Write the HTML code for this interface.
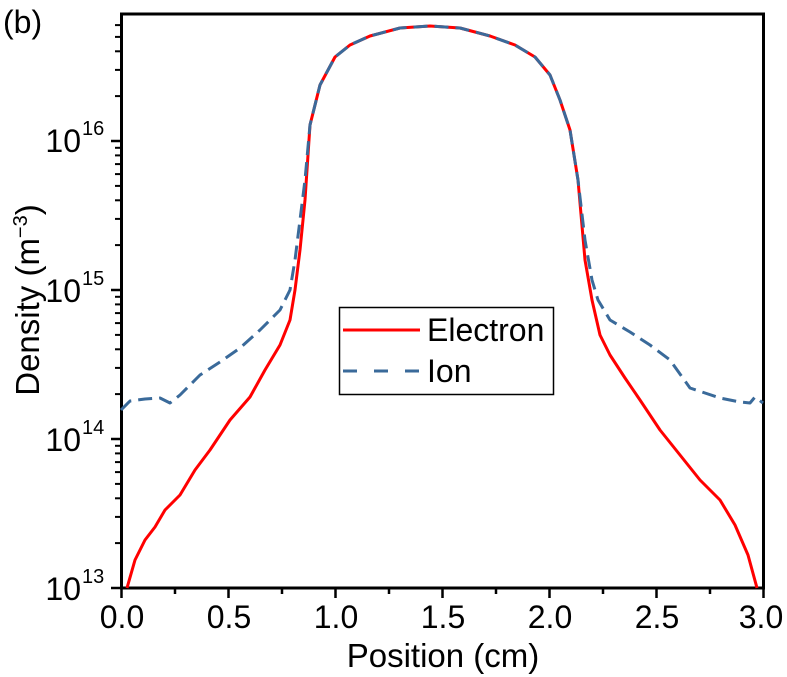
<!DOCTYPE html>
<html><head><style>body{margin:0;background:#fff}svg{display:block}text{font-family:"Liberation Sans",Arial,sans-serif;fill:#000}</style></head><body>
<svg width="787" height="677" viewBox="0 0 787 677">
<text x="3" y="33" font-size="32">(b)</text>
<rect x="121.5" y="14" width="642" height="574" fill="none" stroke="#000" stroke-width="3"/>
<g stroke="#000" stroke-width="2.5">
<line x1="121.5" y1="588" x2="121.5" y2="598"/><line x1="228.5" y1="588" x2="228.5" y2="598"/><line x1="335.5" y1="588" x2="335.5" y2="598"/><line x1="442.5" y1="588" x2="442.5" y2="598"/><line x1="549.5" y1="588" x2="549.5" y2="598"/><line x1="656.5" y1="588" x2="656.5" y2="598"/><line x1="763.5" y1="588" x2="763.5" y2="598"/>
<line x1="175" y1="588" x2="175" y2="594"/><line x1="282" y1="588" x2="282" y2="594"/><line x1="389" y1="588" x2="389" y2="594"/><line x1="496" y1="588" x2="496" y2="594"/><line x1="603" y1="588" x2="603" y2="594"/><line x1="710" y1="588" x2="710" y2="594"/>
<line x1="111" y1="588" x2="121" y2="588"/><line x1="111" y1="439" x2="121" y2="439"/><line x1="111" y1="290" x2="121" y2="290"/><line x1="111" y1="141" x2="121" y2="141"/>
</g>
<g stroke="#000" stroke-width="2">
<line x1="115" y1="543.1" x2="121" y2="543.1"/><line x1="115" y1="516.9" x2="121" y2="516.9"/><line x1="115" y1="498.3" x2="121" y2="498.3"/><line x1="115" y1="483.9" x2="121" y2="483.9"/><line x1="115" y1="472.1" x2="121" y2="472.1"/><line x1="115" y1="462.1" x2="121" y2="462.1"/><line x1="115" y1="453.4" x2="121" y2="453.4"/><line x1="115" y1="445.8" x2="121" y2="445.8"/>
<line x1="115" y1="394.1" x2="121" y2="394.1"/><line x1="115" y1="367.9" x2="121" y2="367.9"/><line x1="115" y1="349.3" x2="121" y2="349.3"/><line x1="115" y1="334.9" x2="121" y2="334.9"/><line x1="115" y1="323.1" x2="121" y2="323.1"/><line x1="115" y1="313.1" x2="121" y2="313.1"/><line x1="115" y1="304.4" x2="121" y2="304.4"/><line x1="115" y1="296.8" x2="121" y2="296.8"/>
<line x1="115" y1="245.1" x2="121" y2="245.1"/><line x1="115" y1="218.9" x2="121" y2="218.9"/><line x1="115" y1="200.3" x2="121" y2="200.3"/><line x1="115" y1="185.9" x2="121" y2="185.9"/><line x1="115" y1="174.1" x2="121" y2="174.1"/><line x1="115" y1="164.1" x2="121" y2="164.1"/><line x1="115" y1="155.4" x2="121" y2="155.4"/><line x1="115" y1="147.8" x2="121" y2="147.8"/>
<line x1="115" y1="96.1" x2="121" y2="96.1"/><line x1="115" y1="69.9" x2="121" y2="69.9"/><line x1="115" y1="51.3" x2="121" y2="51.3"/><line x1="115" y1="36.9" x2="121" y2="36.9"/><line x1="115" y1="25.1" x2="121" y2="25.1"/>
</g>
<g font-size="32" text-anchor="middle">
<text x="122" y="628">0.0</text><text x="229" y="628">0.5</text><text x="336" y="628">1.0</text><text x="443" y="628">1.5</text><text x="550" y="628">2.0</text><text x="657" y="628">2.5</text><text x="761" y="628">3.0</text>
</g>
<g font-size="32" text-anchor="end">
<text x="81" y="600">10</text><text x="81" y="451">10</text><text x="81" y="302">10</text><text x="81" y="152">10</text>
</g>
<g font-size="20">
<text x="82" y="583">13</text><text x="82" y="434">14</text><text x="82" y="285">15</text><text x="82" y="135">16</text>
</g>
<text x="443" y="667" font-size="33" text-anchor="middle">Position (cm)</text>
<text transform="translate(39,300) rotate(-90)" font-size="33" text-anchor="middle">Density (m<tspan font-size="20" dy="-12">−3</tspan><tspan dy="12">)</tspan></text>
<polyline fill="none" stroke="#f00" stroke-width="3" stroke-linejoin="round" points="127,588 135,560 145,540 155,527 165,510 180,495 195,470 210,450 230,420 250,397 265,370 280,345 290,320 295,290 300,250 305,200 310,125 320,85 335,57 350,45 370,36 400,28 430,26 460,28 490,36 515,45 535,57 550,75 560,100 570,130 578,180 585,260 592,300 600,335 610,355 625,378 640,400 660,430 680,455 700,480 720,500 735,525 748,555 757,588"/>
<polyline fill="none" stroke="#3a6a9a" stroke-width="3" stroke-linejoin="round" stroke-dasharray="14,7" points="121,410 130,401 145,399 160,398 170,403 180,395 200,375 220,362 240,348 260,330 280,310 290,290 295,260 300,220 305,180 310,125 320,85 335,57 350,45 370,36 400,28 430,26 460,28 490,36 515,45 535,57 550,75 560,100 570,130 578,180 585,240 592,280 598,300 610,320 630,332 650,345 670,360 690,388 720,398 740,402 750,403 755,397 763,403"/>
<rect x="339.5" y="307.5" width="214" height="87" fill="#fff" stroke="#000" stroke-width="1.5"/>
<line x1="343" y1="330" x2="420" y2="330" stroke="#f00" stroke-width="3"/>
<line x1="343" y1="371" x2="420" y2="371" stroke="#3a6a9a" stroke-width="3" stroke-dasharray="14,17"/>
<text x="427" y="341" font-size="32">Electron</text>
<text x="427" y="382" font-size="32">Ion</text>
</svg>
</body></html>
